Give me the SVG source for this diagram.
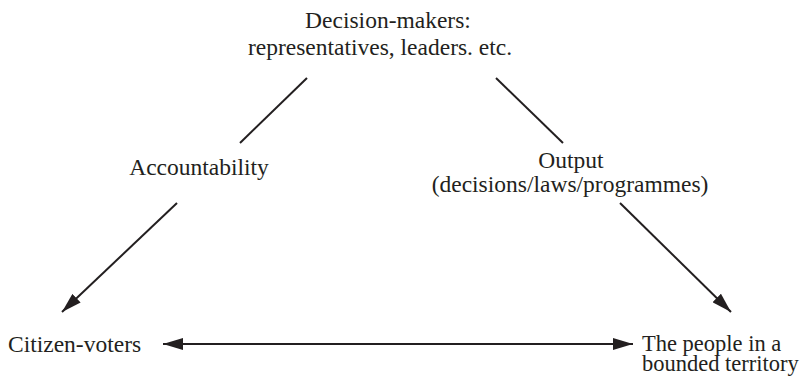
<svg xmlns="http://www.w3.org/2000/svg" width="811" height="377" viewBox="0 0 811 377">
<style>
.l{stroke:#231f20;stroke-width:2;fill:none}
</style>
<defs>
<marker id="ah2" viewBox="0 0 20 12" refX="20" refY="6" markerWidth="20" markerHeight="12" markerUnits="userSpaceOnUse" orient="auto-start-reverse">
<path d="M0,0 L20,6 L0,12 z" fill="#231f20"/>
</marker>
</defs>
<g id="connectors">
<line class="l" x1="307" y1="78" x2="240" y2="143"/>
<line class="l" x1="496" y1="78" x2="563" y2="143"/>
<line class="l" x1="177" y1="203" x2="62" y2="312" marker-end="url(#ah2)"/>
<line class="l" x1="620" y1="203" x2="731" y2="312" marker-end="url(#ah2)"/>
<line class="l" x1="163" y1="344" x2="633" y2="344" marker-start="url(#ah2)" marker-end="url(#ah2)"/>
</g>
<g font-family="Liberation Serif, serif" font-size="23.5" fill="#231f20">
<g id="decision-makers" text-anchor="middle">
<text x="388" y="28">Decision-makers:</text>
<text x="380" y="55">representatives, leaders. etc.</text>
</g>
<g id="accountability">
<text x="199" y="175" text-anchor="middle">Accountability</text>
</g>
<g id="output" text-anchor="middle">
<text x="571" y="168">Output</text>
<text x="570" y="192">(decisions/laws/programmes)</text>
</g>
<g id="citizen-voters">
<text x="8" y="352">Citizen-voters</text>
</g>
<g id="people" font-size="22.5">
<text x="642" y="351">The people in a</text>
<text x="642" y="371">bounded territory</text>
</g>
</g>
</svg>
